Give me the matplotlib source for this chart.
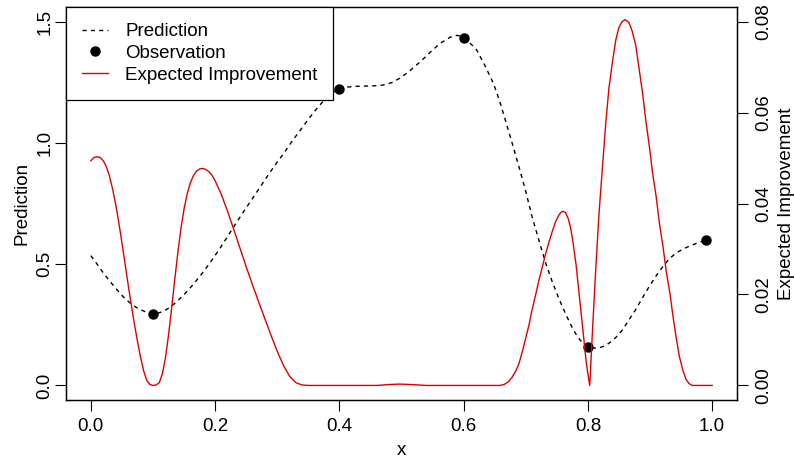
import matplotlib
matplotlib.use("Agg")
import matplotlib.pyplot as plt

plt.rcParams['font.family'] = ['Liberation Sans', 'DejaVu Sans']

# observations
obs_x = [0.10, 0.40, 0.60, 0.80, 0.99]
obs_y = [0.296, 1.222, 1.432, 0.157, 0.600]

# GP prediction
pred_x = [0.000, 0.010, 0.020, 0.031, 0.042, 0.052, 0.063, 0.073, 0.082, 0.091,
          0.100, 0.108, 0.117, 0.128, 0.139, 0.152, 0.166, 0.180, 0.193, 0.207,
          0.220, 0.233, 0.246, 0.260, 0.273, 0.285, 0.297, 0.310, 0.322, 0.335,
          0.348, 0.360, 0.371, 0.381, 0.391, 0.400, 0.413, 0.427, 0.440, 0.455,
          0.470, 0.484, 0.497, 0.510, 0.524, 0.538, 0.551, 0.564, 0.578, 0.588,
          0.595, 0.600, 0.610, 0.621, 0.634, 0.648, 0.658, 0.667, 0.678, 0.689,
          0.700, 0.710, 0.721, 0.732, 0.743, 0.754, 0.765, 0.775, 0.783, 0.791,
          0.797, 0.803, 0.810, 0.818, 0.826, 0.834, 0.845, 0.856, 0.866, 0.877,
          0.888, 0.899, 0.910, 0.921, 0.931, 0.942, 0.953, 0.964, 0.975, 0.985,
          0.990]
pred_y = [0.535, 0.500, 0.464, 0.428, 0.395, 0.366, 0.340, 0.322, 0.310, 0.300,
          0.296, 0.298, 0.306, 0.323, 0.347, 0.380, 0.420, 0.465, 0.510, 0.562,
          0.614, 0.666, 0.717, 0.770, 0.820, 0.866, 0.910, 0.955, 1.000, 1.045,
          1.090, 1.130, 1.163, 1.190, 1.210, 1.222, 1.230, 1.233, 1.234, 1.235,
          1.238, 1.248, 1.266, 1.290, 1.320, 1.353, 1.385, 1.413, 1.435, 1.443,
          1.441, 1.432, 1.412, 1.383, 1.320, 1.245, 1.172, 1.095, 1.000, 0.902,
          0.800, 0.697, 0.600, 0.505, 0.425, 0.354, 0.290, 0.237, 0.202, 0.176,
          0.163, 0.157, 0.154, 0.155, 0.162, 0.174, 0.198, 0.230, 0.270, 0.313,
          0.362, 0.409, 0.452, 0.491, 0.522, 0.546, 0.562, 0.575, 0.586, 0.595,
          0.600]

# expected improvement
ei_x = [0.000, 0.005, 0.010, 0.015, 0.020, 0.025, 0.030, 0.035, 0.040, 0.045,
        0.050, 0.055, 0.060, 0.065, 0.070, 0.075, 0.080, 0.085, 0.090, 0.095,
        0.100, 0.105, 0.110, 0.115, 0.120, 0.125, 0.130, 0.135, 0.140, 0.145,
        0.150, 0.155, 0.160, 0.165, 0.170, 0.175, 0.180, 0.185, 0.190, 0.195,
        0.200, 0.210, 0.220, 0.230, 0.240, 0.250, 0.260, 0.270, 0.280, 0.290,
        0.300, 0.310, 0.320, 0.330, 0.340, 0.350, 0.400, 0.460, 0.480, 0.497,
        0.515, 0.540, 0.600, 0.658, 0.665, 0.672, 0.678, 0.684, 0.689, 0.694,
        0.699, 0.705, 0.710, 0.716, 0.721, 0.727, 0.732, 0.738, 0.743, 0.748,
        0.753, 0.757, 0.760, 0.764, 0.768, 0.772, 0.776, 0.781, 0.786, 0.791,
        0.797, 0.800, 0.803, 0.807, 0.812, 0.818, 0.824, 0.829, 0.834, 0.840,
        0.845, 0.850, 0.855, 0.860, 0.866, 0.871, 0.877, 0.882, 0.888, 0.893,
        0.899, 0.904, 0.910, 0.915, 0.921, 0.926, 0.932, 0.937, 0.942, 0.947,
        0.953, 0.958, 0.963, 0.968, 1.000]
ei_y = [0.0494, 0.0501, 0.0503, 0.0501, 0.0494, 0.0481, 0.0460, 0.0432, 0.0398, 0.0358,
        0.0314, 0.0268, 0.0222, 0.0178, 0.0136, 0.0097, 0.0062, 0.0032, 0.0011, 0.0002,
        0.0000, 0.0001, 0.0006, 0.0025, 0.0060, 0.0110, 0.0170, 0.0232, 0.0292, 0.0345,
        0.0388, 0.0421, 0.0445, 0.0461, 0.0471, 0.0476, 0.0477, 0.0475, 0.0470, 0.0462,
        0.0450, 0.0420, 0.0383, 0.0343, 0.0302, 0.0261, 0.0222, 0.0184, 0.0147, 0.0110,
        0.0075, 0.0044, 0.0020, 0.0006, 0.0001, 0.0000, 0.0000, 0.0000, 0.0002, 0.0003,
        0.0002, 0.0000, 0.0000, 0.0000, 0.0002, 0.0008, 0.0018, 0.0032, 0.0048, 0.0072,
        0.0099, 0.0132, 0.0165, 0.0200, 0.0230, 0.0262, 0.0290, 0.0318, 0.0340, 0.0360,
        0.0374, 0.0381, 0.0383, 0.0380, 0.0368, 0.0348, 0.0315, 0.0265, 0.0200, 0.0135,
        0.0055, 0.0025, 0.0000, 0.0110, 0.0240, 0.0380, 0.0490, 0.0580, 0.0655, 0.0716,
        0.0760, 0.0787, 0.0800, 0.0804, 0.0798, 0.0780, 0.0748, 0.0700, 0.0643, 0.0585,
        0.0525, 0.0468, 0.0414, 0.0358, 0.0304, 0.0252, 0.0203, 0.0152, 0.0106, 0.0065,
        0.0033, 0.0013, 0.0004, 0.0000, 0.0000]

fig = plt.figure(figsize=(7.94, 4.59), dpi=100)
ax = fig.add_axes([66 / 794, 59 / 459, 671 / 794, 393 / 459])

ax.plot(pred_x, pred_y, color='black', lw=1.0, linestyle=(0, (3, 3)))
ax.plot(obs_x, obs_y, 'o', color='black', ms=6.5)
ax.set_xlim(-0.04, 1.04)
ax.set_ylim(-0.06, 1.56)
ax.set_xticks([0, 0.2, 0.4, 0.6, 0.8, 1.0])
ax.set_xticklabels(['0.0', '0.2', '0.4', '0.6', '0.8', '1.0'])
ax.set_yticks([0, 0.5, 1.0, 1.5])
ax.set_yticklabels(['0.0', '0.5', '1.0', '1.5'], rotation=90, va='center')
ax.tick_params(direction='out', length=8, width=0.8, labelsize=13.5)
ax.tick_params(axis='x', pad=5)
ax.tick_params(axis='y', pad=1)
ax.set_xlabel('x', fontsize=13.5, labelpad=5)
ax.set_ylabel('Prediction', fontsize=13.5, labelpad=4)

ax2 = ax.twinx()
ax2.plot(ei_x, ei_y, color='#dd0000', lw=1.0)
ax2.set_ylim(-0.0032, 0.0832)
ax2.set_yticks([0, 0.02, 0.04, 0.06, 0.08])
ax2.set_yticklabels(['0.00', '0.02', '0.04', '0.06', '0.08'], rotation=90, va='center')
ax2.tick_params(direction='out', length=8, width=0.8, labelsize=13.5, pad=5)
ax2.set_ylabel('Expected Improvement', fontsize=13.5, labelpad=4)

for a in (ax, ax2):
    for s in a.spines.values():
        s.set_linewidth(0.9)

h1, = ax2.plot([], [], color='black', lw=1.0, linestyle=(0, (3, 3)))
h2, = ax2.plot([], [], 'o', color='black', ms=6.5)
h3, = ax2.plot([], [], color='#dd0000', lw=1.0)
leg = ax2.legend([h1, h2, h3], ['Prediction', 'Observation', 'Expected Improvement'],
                 loc='upper left', bbox_to_anchor=(0, 1), borderaxespad=0,
                 fontsize=13.5, fancybox=False, framealpha=1, edgecolor='black',
                 handlelength=1.4, handletextpad=0.9, labelspacing=0.25,
                 borderpad=0.85)
leg.get_frame().set_linewidth(0.9)
leg.set_zorder(10)

fig.savefig('out.png', dpi=100)
